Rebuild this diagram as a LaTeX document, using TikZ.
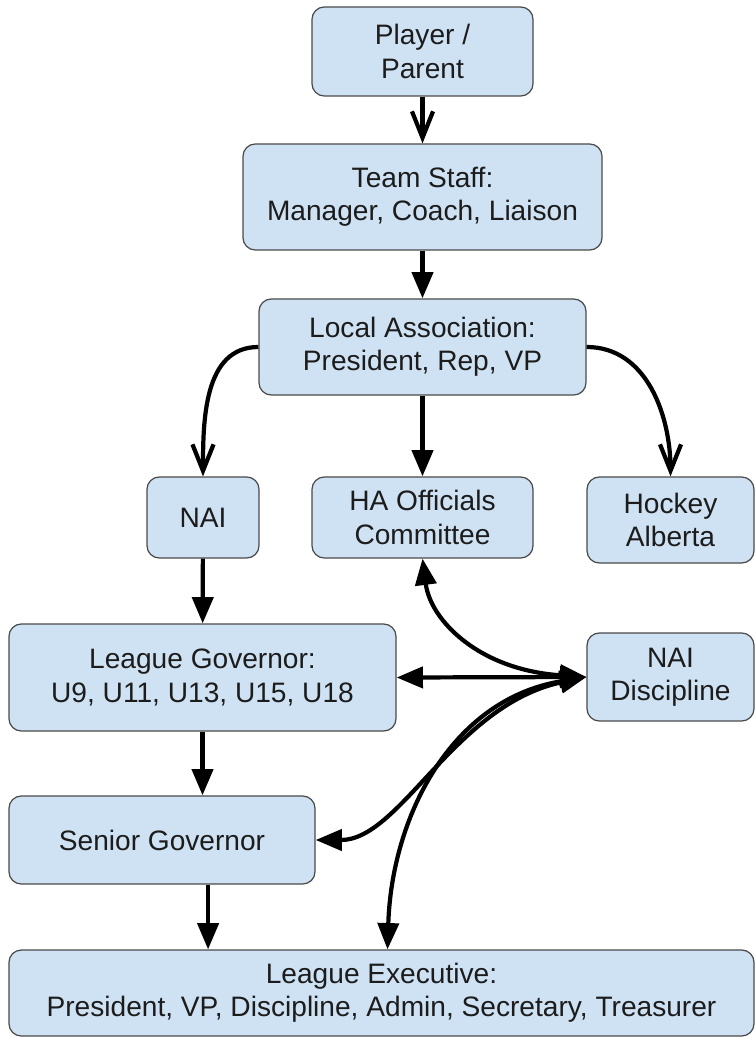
\documentclass[tikz,border=0pt]{standalone}
\usepackage{fontspec}
\setmainfont{Liberation Sans}
\usetikzlibrary{arrows.meta,calc}
\definecolor{boxfill}{HTML}{CFE2F3}
\definecolor{boxline}{HTML}{4A4A4A}
\definecolor{txt}{HTML}{1C1C1C}
\begin{document}
\begin{tikzpicture}[x=0.02cm,y=-0.02cm,
  box/.style={draw=boxline, fill=boxfill, line width=0.7pt, rounded corners=7pt,
    inner sep=0pt, align=center, text=txt, font=\fontsize{16}{19}\selectfont},
  sz/.style 2 args={minimum width=#1*0.02cm, minimum height=#2*0.02cm},
  arr/.style={line width=2.4pt, -{Triangle[length=15pt,width=12pt]}},
  dbl/.style={line width=2.4pt, {Triangle[length=15pt,width=12pt]}-{Triangle[length=15pt,width=12pt]}},
  barb/.style={line width=2.4pt, -{Straight Barb[length=15pt,width=12pt]}}]
\useasboundingbox (0,0) rectangle (755,1043);

\node[box, sz={221}{89}] (P) at (422.5,51.5) {Player /\\Parent};
\node[box, sz={359}{106}] (TS) at (422.5,197) {Team Staff:\\Manager, Coach, Liaison};
\node[box, sz={327}{96}] (LA) at (422.5,347) {Local Association:\\President, Rep, VP};
\node[box, sz={112}{81}] (NAI) at (203,517.5) {NAI};
\node[box, sz={221}{81}] (HA) at (422.5,517.5) {HA Officials\\Committee};
\node[box, sz={167}{86}] (HK) at (670.5,520) {Hockey\\Alberta};
\node[box, sz={387}{107}] (LG) at (202.5,677.5) {League Governor:\\U9, U11, U13, U15, U18};
\node[box, sz={167}{88}] (ND) at (670.5,677) {NAI\\Discipline};
\node[box, sz={306}{88}] (SG) at (162,840) {Senior Governor};
\node[box, sz={745}{86}] (LE) at (381.5,993) {League Executive:\\President, VP, Discipline, Admin, Secretary, Treasurer};

\draw[barb] (P) -- (TS);
\draw[arr] (TS) -- (LA);
\draw[barb] (LA.west) to[out=180,in=90] (NAI.north);
\draw[barb] (LA.east) to[out=0,in=90] (HK.north);
\draw[arr] (LA) -- (HA);
\draw[arr] (NAI) -- (LG);
\draw[arr] (LG.south) -- (LG.south |- SG.north);
\coordinate (sgo) at ($(SG.south west)!0.65!(SG.south east)$);
\draw[arr] (sgo) -- (sgo |- LE.north);
\draw[dbl] (LG.east) -- (ND.west);
\draw[dbl] (HA.south) .. controls +(8,62) and +(-107,-7) .. (ND.west);
\draw[dbl] (SG.east) .. controls +(85,0) and +(-132,28) .. (ND.west);
\coordinate (leo) at ($(LE.north)+(6,0)$);
\draw[dbl] (leo) .. controls +(4,-130) and +(-137,23) .. (ND.west);
\end{tikzpicture}
\end{document}
